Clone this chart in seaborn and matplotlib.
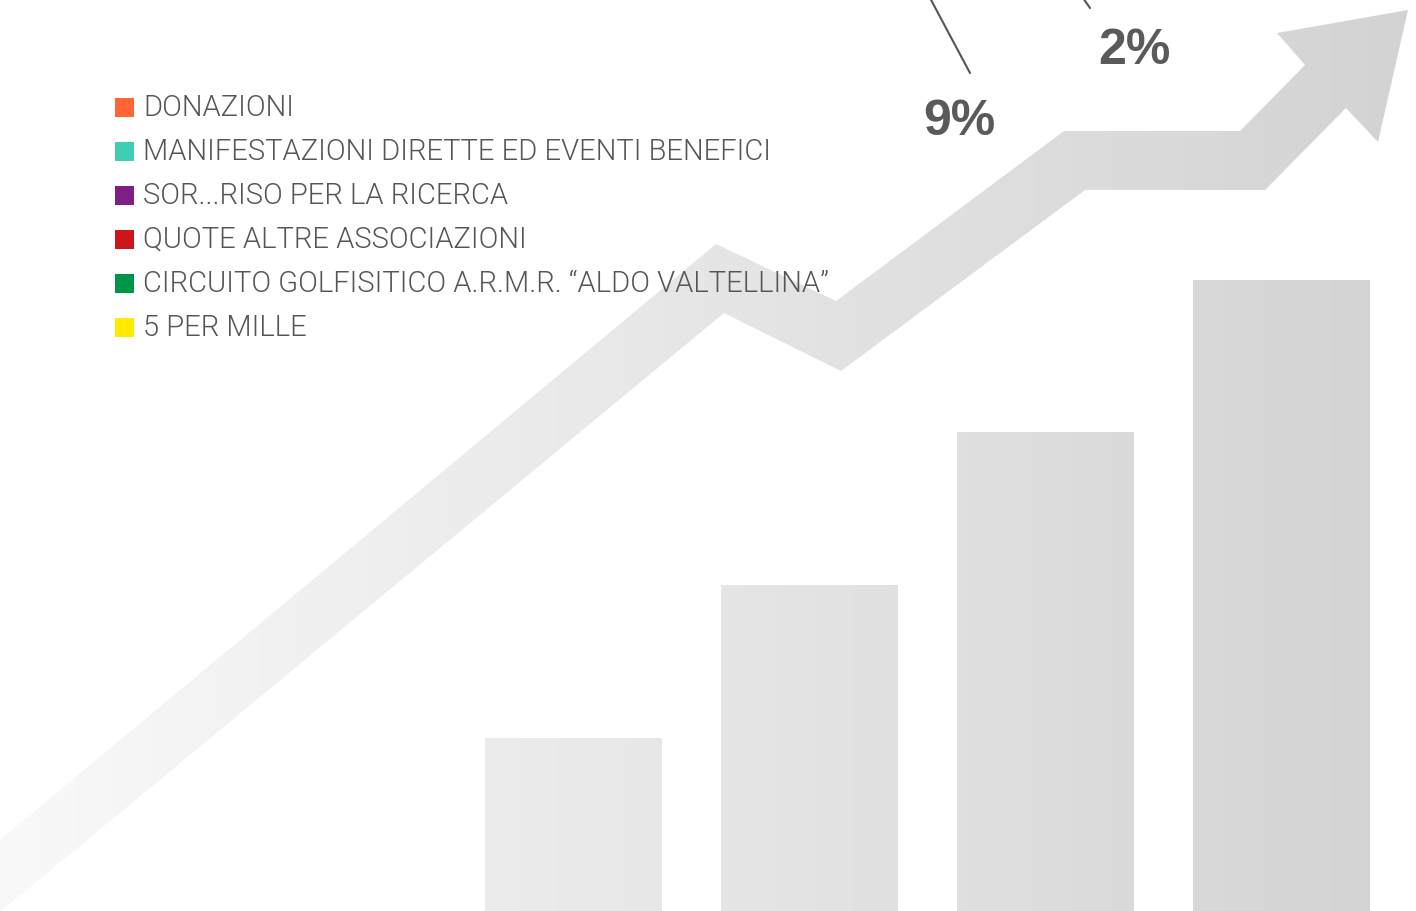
import numpy as np
import pandas as pd
import matplotlib
matplotlib.use("Agg")
import matplotlib.pyplot as plt
import seaborn as sns
from matplotlib.patches import Polygon, Rectangle
from matplotlib import font_manager as fm

# ---------------- data ----------------
bar_periods = ["A", "B", "C", "D"]
bar_values = [173, 326, 479, 631]

legend_labels = [
    "DONAZIONI",
    "MANIFESTAZIONI DIRETTE ED EVENTI BENEFICI",
    "SOR...RISO PER LA RICERCA",
    "QUOTE ALTRE ASSOCIAZIONI",
    "CIRCUITO GOLFISITICO A.R.M.R. \u201cALDO VALTELLINA\u201d",
    "5 PER MILLE",
]
legend_colors = ["#ff6633", "#3ecfb2", "#7f1e86", "#cc161b", "#009447", "#ffea00"]

pct_labels = ["9%", "2%"]

# decorative trend arrow outline (pixel space)
arrow_x = [0, 716, 836, 1064, 1240, 1305, 1277, 1408, 1378, 1346, 1265, 1085, 841, 724, 0]
arrow_y = [840, 244, 301, 131, 131, 65, 33, 10, 142, 108, 190, 190, 371, 313, 912]

# ---------------- figure ----------------
sns.set_theme(style="white")
W, H = 1416, 911
fig = plt.figure(figsize=(W / 100, H / 100), dpi=100)
fig.patch.set_facecolor("white")

def gray_at(x):
    v = (249 - 0.027 * x) / 255.0
    return (v, v, v)

grad_x = np.linspace(0, W, 400)
grad = np.array([[gray_at(x) for x in grad_x]])

# background axes for arrow
axbg = fig.add_axes([0, 0, 1, 1])
axbg.set_xlim(0, W)
axbg.set_ylim(H, 0)
axbg.axis("off")
arrow = Polygon(np.column_stack([arrow_x, arrow_y]), closed=True,
                facecolor="none", edgecolor="none")
axbg.add_patch(arrow)
im = axbg.imshow(grad, extent=[0, W, H, 0], aspect="auto", zorder=1,
                 interpolation="bilinear")
im.set_clip_path(arrow)

# bars axes: category i at pixel 573 + 236*i
unit = 236.0
ax = fig.add_axes([0, 0, 1, 1])
ax.patch.set_alpha(0)
df = pd.DataFrame({"period": bar_periods, "value": bar_values})
sns.barplot(data=df, x="period", y="value", ax=ax, color="#e0e0e0",
            width=0.75, saturation=1, zorder=2)
ax.set_xlim(-573 / unit, (W - 573) / unit)
ax.set_ylim(0, H)
ax.axis("off")
x0d, x1d = ax.get_xlim()
for p in list(ax.patches):
    p.set_facecolor("none")
    p.set_edgecolor("none")
    img = ax.imshow(grad, extent=[x0d, x1d, 0, H], aspect="auto", zorder=2,
                    interpolation="bilinear")
    img.set_clip_path(p)
ax.set_xlim(x0d, x1d)
ax.set_ylim(0, H)

# overlay axes for text (pixel space)
axt = fig.add_axes([0, 0, 1, 1])
axt.patch.set_alpha(0)
axt.set_xlim(0, W)
axt.set_ylim(H, 0)
axt.axis("off")

fams = {f.name for f in fm.fontManager.ttflist}
light_family = "Roboto" if "Roboto" in fams else "DejaVu Sans"

y0, dy = 107, 44
for i, (lab, col) in enumerate(zip(legend_labels, legend_colors)):
    y = y0 + i * dy
    axt.add_patch(Rectangle((115, y - 9.5), 19, 19, facecolor=col,
                            edgecolor="none", zorder=5))
    axt.text(143, y + 1, lab, fontsize=21, color="#555555",
             family=light_family, fontweight=300, va="center", ha="left",
             zorder=5)

pct_pos = [(959, 122), (1134, 51)]
leader = [((930, 970), (-2, 73)), ((1083, 1090), (-2, 8))]
for lab, (px, py), (lx, ly) in zip(pct_labels, pct_pos, leader):
    axt.plot(lx, ly, color="#555555", lw=1.5, zorder=5)
    axt.text(px, py, lab, fontsize=36, fontweight="bold", color="#5a5a5a",
             family="Liberation Sans", ha="center", va="center", zorder=5)

fig.savefig("out.png", dpi=100, facecolor="white")
